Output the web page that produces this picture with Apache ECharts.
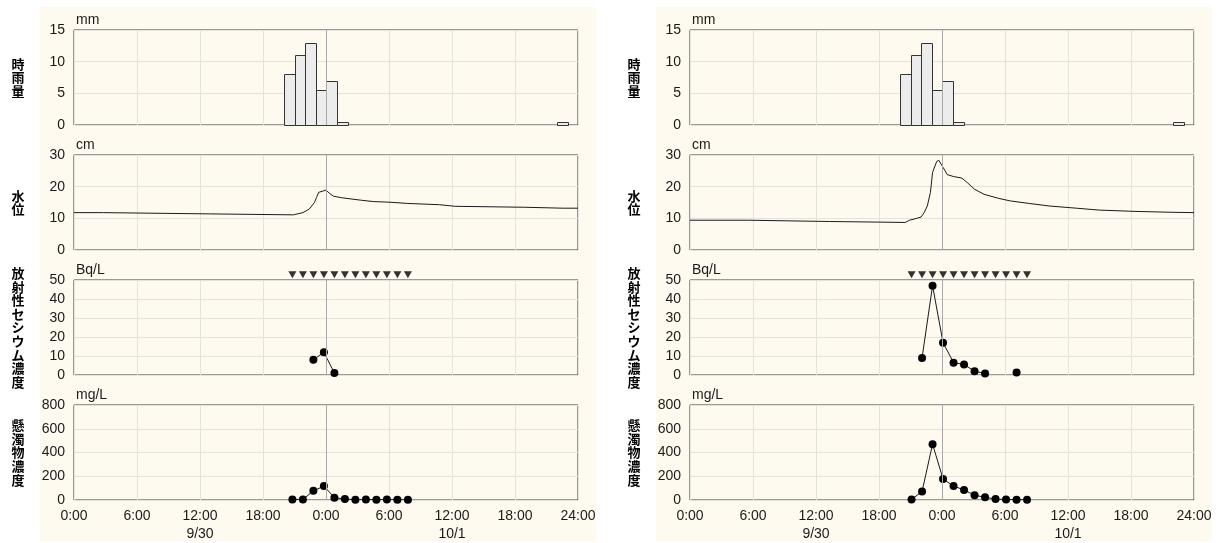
<!DOCTYPE html>
<html>
<head>
<meta charset="utf-8">
<script src="https://cdn.jsdelivr.net/npm/echarts@6/dist/echarts.min.js"></script>
<style>
  html, body { margin: 0; padding: 0; background: #fff; }
  #chart { width: 1219px; height: 543px; }
</style>
</head>
<body>
<div id="chart"></div>
<script>
// x axis in hours from 9/30 0:00
const timeLabels = ['0:00', '6:00', '12:00', '18:00', '0:00', '6:00', '12:00', '18:00', '24:00'];
const dateLabels = ['', '', '9/30', '', '', '', '10/1', '', ''];

// hourly rainfall (hour ending at time)
const rainTimes = [21, 22, 23, 24, 25, 26, 47];
const rainValues = [8, 11, 13, 5.5, 7, 0.5, 0.5];

// water level, left site
const waterTimesL = [0, 2.8, 2.9, 13, 13.1, 20.9, 21.8, 22.4, 22.9, 23.1, 23.3, 23.7, 24.0, 24.3, 24.7, 25.5, 27.4, 28.5, 30, 31.8, 34.8, 36.3, 42.9, 46.6, 48];
const waterL = [11.8, 11.8, 11.4, 11.4, 11.1, 11.1, 11.8, 12.9, 15.0, 16.6, 18.2, 18.6, 18.9, 18.0, 17.0, 16.5, 15.7, 15.3, 15.1, 14.7, 14.3, 13.8, 13.5, 13.2, 13.2];
// water level, right site
const waterTimesR = [0, 5.6, 5.7, 13.3, 13.4, 20.5, 20.9, 21.6, 22.0, 22.3, 22.6, 22.9, 23.1, 23.5, 23.7, 24.1, 24.5, 25.1, 25.9, 26.4, 27.1, 28.0, 29.4, 30.5, 32.3, 34.2, 36.8, 39.0, 42.3, 46.0, 48];
const waterR = [9.4, 9.4, 9.0, 9.0, 8.7, 8.7, 9.4, 10.0, 10.4, 11.8, 13.9, 18.2, 24.5, 28.0, 28.3, 26.1, 23.8, 23.2, 22.7, 21.3, 19.2, 17.6, 16.3, 15.5, 14.7, 13.9, 13.2, 12.6, 12.2, 11.9, 11.8];

// sampling times and concentrations
const sampleTimesL = [20.8, 21.8, 22.8, 23.8, 24.8, 25.8, 26.8, 27.8, 28.8, 29.8, 30.8, 31.8];
const csL = [null, null, 8, 12, 1, null, null, null, null, null, null, null];
const ssL = [5, 5, 77, 117, 20, 8, 3, 4, 3, 4, 3, 2];

const sampleTimesR = [21.1, 22.1, 23.1, 24.1, 25.1, 26.1, 27.1, 28.1, 29.1, 30.1, 31.1, 32.1];
const csR = [null, 9, 47, 17, 6.5, 5.5, 2, 0.8, null, null, 1.3, null];
const ssR = [5, 71, 470, 177, 117, 85, 40, 23, 8, 4, 3, 2];

const markerLevel = 52.8; // sampling markers above Cs panel

const panelTitles = ['時雨量', '水位', '放射性セシウム濃度', '懸濁物濃度'];
const panelUnits = ['mm', 'cm', 'Bq/L', 'mg/L'];
const panelMax = [15, 30, 50, 800];
const panelStep = [5, 10, 10, 200];

const sideLeft = [74, 690];
const bgLeft = [40, 656];
const plotW = 504;
const panelTop = [30, 155, 280, 405];
const panelH = 95;

const cream = '#fefaef';
const gridColor = '#e4e2dc';
const ink = '#1a1a1a';

const grids = [], xAxes = [], yAxes = [], series = [], graphics = [];

const midnight = {
  silent: true, symbol: 'none', label: { show: false },
  lineStyle: { color: '#a9a9a9', type: 'solid', width: 1 },
  data: [{ xAxis: 24 }]
};

function pairs(ts, vs) { return ts.map((t, i) => [t, vs[i]]); }

const sides = [
  { water: pairs(waterTimesL, waterL), cs: pairs(sampleTimesL, csL), ss: pairs(sampleTimesL, ssL), st: sampleTimesL },
  { water: pairs(waterTimesR, waterR), cs: pairs(sampleTimesR, csR), ss: pairs(sampleTimesR, ssR), st: sampleTimesR }
];

sides.forEach((side, s) => {
  graphics.push({
    type: 'rect', z: -10, silent: true,
    shape: { x: bgLeft[s], y: 7, width: 556, height: 534 },
    style: { fill: cream }
  });
  for (let p = 0; p < 4; p++) {
    const idx = grids.length;
    grids.push({
      left: sideLeft[s], top: panelTop[p], width: plotW, height: panelH,
      show: true, borderColor: '#3a3a3a', borderWidth: 1, backgroundColor: 'transparent'
    });
    const last = p === 3;
    xAxes.push({
      type: 'value', gridIndex: idx, min: 0, max: 48, interval: 6,
      axisLine: { show: false }, axisTick: { show: false },
      splitLine: { show: true, lineStyle: { color: gridColor, width: 1 } },
      axisLabel: {
        show: last, color: ink, fontSize: 14, fontFamily: 'Arial', margin: 7, lineHeight: 18,
        formatter: v => {
          const i = Math.round(v / 6);
          return dateLabels[i] ? timeLabels[i] + '\n' + dateLabels[i] : timeLabels[i];
        }
      }
    });
    yAxes.push({
      type: 'value', gridIndex: idx, min: 0, max: panelMax[p], interval: panelStep[p],
      name: panelUnits[p], nameLocation: 'end', nameGap: 3,
      nameTextStyle: { color: ink, fontSize: 14, fontFamily: 'Arial', align: 'left', padding: [0, 0, 0, 2] },
      axisLine: { show: false }, axisTick: { show: false },
      splitLine: { show: true, lineStyle: { color: gridColor, width: 1 } },
      axisLabel: { color: ink, fontSize: 14, fontFamily: 'Arial', margin: 9 }
    });
    graphics.push({
      type: 'text', silent: true,
      x: sideLeft[s] - 56, y: panelTop[p] + panelH / 2,
      style: {
        text: panelTitles[p].split('').join('\n'),
        font: 'bold 13px "Noto Sans CJK JP"', lineHeight: 13.6,
        fill: '#000', align: 'center', verticalAlign: 'middle'
      }
    });
  }
  const g = s * 4;
  series.push({
    type: 'custom', xAxisIndex: g, yAxisIndex: g,
    data: pairs(rainTimes, rainValues),
    encode: { x: 0, y: 1 },
    renderItem: (params, api) => {
      const t = api.value(0), v = api.value(1);
      const a = api.coord([t - 1, v]);
      const b = api.coord([t, 0]);
      return {
        type: 'rect',
        shape: { x: Math.round(a[0]) + 0.5, y: Math.round(a[1]) + 0.5, width: Math.round(b[0] - a[0]), height: Math.round(b[1] - a[1]) },
        style: { fill: '#ececec', stroke: '#333', lineWidth: 1 }
      };
    },
    markLine: midnight
  });
  series.push({
    type: 'line', xAxisIndex: g + 1, yAxisIndex: g + 1,
    data: side.water, showSymbol: false, symbol: 'none',
    lineStyle: { color: ink, width: 1 }, markLine: midnight
  });
  series.push({
    type: 'line', xAxisIndex: g + 2, yAxisIndex: g + 2,
    data: side.cs, symbol: 'circle', symbolSize: 8, connectNulls: false,
    itemStyle: { color: '#000' }, lineStyle: { color: ink, width: 1 }, markLine: midnight
  });
  series.push({
    type: 'scatter', xAxisIndex: g + 2, yAxisIndex: g + 2,
    data: side.st.map(t => [t, markerLevel]), clip: false,
    symbol: 'triangle', symbolRotate: 180, symbolSize: [8, 7],
    itemStyle: { color: '#000' }
  });
  series.push({
    type: 'line', xAxisIndex: g + 3, yAxisIndex: g + 3,
    data: side.ss, symbol: 'circle', symbolSize: 8,
    itemStyle: { color: '#000' }, lineStyle: { color: ink, width: 1 }, markLine: midnight
  });
});

const chart = echarts.init(document.getElementById('chart'));
chart.setOption({
  backgroundColor: '#fff',
  animation: false,
  grid: grids,
  xAxis: xAxes,
  yAxis: yAxes,
  graphic: graphics,
  series: series
});
window.onresize = () => chart.resize();
</script>
</body>
</html>
